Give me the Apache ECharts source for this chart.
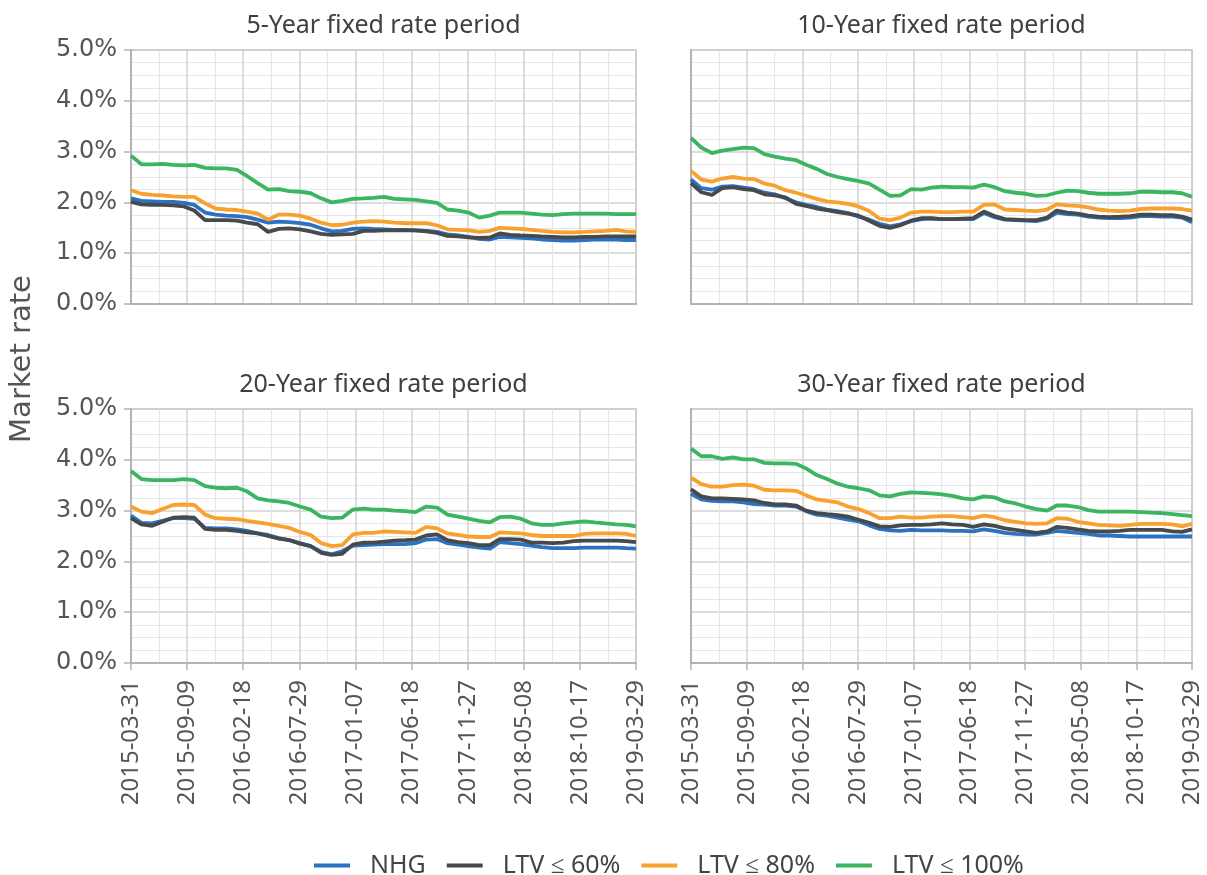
<!DOCTYPE html>
<html>
<head>
<meta charset="utf-8">
<script src="https://cdn.jsdelivr.net/npm/echarts@6/dist/echarts.min.js"></script>
<style>
html,body{margin:0;padding:0;background:#fff;}
#chart{width:1207px;height:875px;}
</style>
</head>
<body>
<div id="chart"></div>
<script>
// Month-end observation dates
const dates = ['2015-03-31','2015-04-30','2015-05-31','2015-06-30','2015-07-31','2015-08-31','2015-09-30','2015-10-31','2015-11-30','2015-12-31',
'2016-01-31','2016-02-29','2016-03-31','2016-04-30','2016-05-31','2016-06-30','2016-07-31','2016-08-31','2016-09-30','2016-10-31',
'2016-11-30','2016-12-31','2017-01-31','2017-02-28','2017-03-31','2017-04-30','2017-05-31','2017-06-30','2017-07-31','2017-08-31',
'2017-09-30','2017-10-31','2017-11-30','2017-12-31','2018-01-31','2018-02-28','2018-03-31','2018-04-30','2018-05-31','2018-06-30',
'2018-07-31','2018-08-31','2018-09-30','2018-10-31','2018-11-30','2018-12-31','2019-01-31','2019-02-28','2019-03-29'];

const seriesNames = ['NHG', 'LTV ≤ 60%', 'LTV ≤ 80%', 'LTV ≤ 100%'];
const panelTitles = ['5-Year fixed rate period', '10-Year fixed rate period', '20-Year fixed rate period', '30-Year fixed rate period'];
const yTicks = [0, 1, 2, 3, 4, 5];

// 5-year
const nhg5 = [2.08,2.03,2.02,2.01,2.01,1.99,1.95,1.80,1.76,1.74, 1.73,1.71,1.66,1.60,1.62,1.61,1.59,1.56,1.49,1.43, 1.44,1.48,1.49,1.48,1.47,1.46,1.46,1.45,1.44,1.42, 1.37,1.35,1.32,1.28,1.27,1.32,1.31,1.30,1.29,1.27, 1.26,1.25,1.25,1.26,1.27,1.27,1.27,1.26,1.26];
const ltv60_5 = [2.01,1.96,1.95,1.95,1.94,1.92,1.84,1.65,1.65,1.65, 1.64,1.60,1.57,1.42,1.48,1.49,1.47,1.43,1.38,1.36, 1.37,1.38,1.44,1.44,1.45,1.45,1.45,1.45,1.43,1.40, 1.34,1.33,1.31,1.30,1.31,1.39,1.36,1.35,1.34,1.33, 1.32,1.31,1.31,1.32,1.32,1.33,1.33,1.33,1.33];
const ltv80_5 = [2.24,2.17,2.15,2.14,2.12,2.11,2.11,1.98,1.88,1.86, 1.85,1.82,1.78,1.66,1.76,1.76,1.74,1.68,1.60,1.55, 1.56,1.60,1.62,1.63,1.62,1.60,1.59,1.59,1.59,1.55, 1.47,1.46,1.45,1.42,1.44,1.50,1.49,1.48,1.46,1.44, 1.42,1.41,1.41,1.42,1.43,1.44,1.46,1.43,1.42];
const ltv100_5 = [2.92,2.75,2.75,2.76,2.74,2.73,2.74,2.68,2.67,2.67, 2.64,2.52,2.38,2.25,2.26,2.22,2.21,2.18,2.08,2.00, 2.03,2.07,2.08,2.09,2.11,2.07,2.06,2.05,2.02,1.99, 1.86,1.84,1.80,1.70,1.74,1.80,1.80,1.80,1.78,1.76, 1.75,1.77,1.78,1.78,1.78,1.78,1.77,1.77,1.77];

// 10-year
const nhg10 = [2.45,2.28,2.25,2.31,2.32,2.29,2.26,2.19,2.16,2.08, 2.00,1.95,1.91,1.86,1.83,1.79,1.72,1.66,1.58,1.53, 1.57,1.63,1.67,1.68,1.67,1.67,1.67,1.67,1.79,1.71, 1.66,1.65,1.64,1.63,1.68,1.80,1.77,1.76,1.72,1.70, 1.69,1.69,1.70,1.73,1.73,1.72,1.72,1.70,1.61];
const ltv60_10 = [2.38,2.20,2.15,2.28,2.30,2.26,2.24,2.16,2.14,2.10, 1.97,1.93,1.88,1.85,1.81,1.78,1.74,1.64,1.54,1.50, 1.55,1.64,1.69,1.69,1.67,1.67,1.68,1.69,1.82,1.73, 1.67,1.66,1.65,1.65,1.70,1.84,1.80,1.78,1.74,1.72, 1.71,1.72,1.73,1.76,1.76,1.75,1.75,1.72,1.66];
const ltv80_10 = [2.62,2.45,2.41,2.47,2.50,2.47,2.46,2.37,2.33,2.24, 2.19,2.13,2.07,2.02,2.00,1.97,1.92,1.83,1.68,1.65, 1.70,1.80,1.82,1.82,1.81,1.81,1.82,1.82,1.95,1.96, 1.86,1.85,1.84,1.83,1.86,1.96,1.94,1.93,1.90,1.86, 1.84,1.83,1.84,1.87,1.88,1.88,1.88,1.87,1.84];
const ltv100_10 = [3.27,3.08,2.97,3.02,3.05,3.08,3.07,2.95,2.90,2.86, 2.83,2.74,2.66,2.56,2.50,2.46,2.42,2.37,2.25,2.13, 2.14,2.26,2.25,2.29,2.31,2.30,2.30,2.29,2.35,2.30, 2.22,2.19,2.17,2.13,2.14,2.19,2.23,2.22,2.19,2.17, 2.17,2.17,2.18,2.21,2.21,2.20,2.20,2.18,2.11];

// 20-year
const nhg20 = [2.90,2.76,2.75,2.80,2.85,2.85,2.84,2.66,2.65,2.65, 2.63,2.60,2.55,2.52,2.46,2.42,2.36,2.30,2.19,2.14, 2.20,2.31,2.32,2.33,2.34,2.34,2.34,2.36,2.43,2.44, 2.36,2.33,2.30,2.27,2.25,2.38,2.36,2.34,2.31,2.28, 2.26,2.26,2.26,2.27,2.27,2.27,2.27,2.26,2.25];
const ltv60_20 = [2.85,2.73,2.70,2.78,2.86,2.87,2.86,2.64,2.62,2.62, 2.60,2.57,2.55,2.50,2.45,2.42,2.35,2.30,2.17,2.13, 2.15,2.33,2.37,2.37,2.39,2.41,2.42,2.43,2.51,2.53, 2.42,2.38,2.36,2.32,2.32,2.44,2.44,2.43,2.37,2.37, 2.36,2.37,2.40,2.41,2.41,2.41,2.41,2.40,2.38];
const ltv80_20 = [3.08,2.98,2.95,3.03,3.11,3.12,3.11,2.92,2.85,2.84, 2.83,2.80,2.77,2.74,2.70,2.66,2.58,2.52,2.36,2.30, 2.32,2.53,2.56,2.56,2.59,2.58,2.57,2.56,2.68,2.65, 2.55,2.52,2.49,2.48,2.48,2.57,2.56,2.55,2.52,2.50, 2.50,2.50,2.50,2.54,2.55,2.55,2.55,2.54,2.50];
const ltv100_20 = [3.78,3.62,3.60,3.60,3.60,3.62,3.60,3.48,3.45,3.44, 3.45,3.38,3.24,3.20,3.18,3.15,3.08,3.02,2.88,2.85, 2.86,3.02,3.04,3.02,3.02,3.00,2.99,2.97,3.08,3.06, 2.92,2.88,2.84,2.80,2.77,2.87,2.88,2.84,2.75,2.72, 2.72,2.75,2.77,2.79,2.77,2.75,2.73,2.72,2.69];

// 30-year
const nhg30 = [3.33,3.22,3.19,3.18,3.18,3.16,3.13,3.12,3.10,3.10, 3.08,2.99,2.92,2.90,2.86,2.82,2.79,2.71,2.64,2.61, 2.60,2.62,2.61,2.61,2.61,2.60,2.60,2.59,2.63,2.60, 2.56,2.54,2.53,2.53,2.56,2.60,2.58,2.56,2.54,2.51, 2.51,2.50,2.49,2.49,2.49,2.49,2.49,2.49,2.49];
const ltv60_30 = [3.42,3.28,3.24,3.24,3.23,3.22,3.20,3.15,3.12,3.12, 3.10,3.00,2.95,2.93,2.91,2.88,2.82,2.76,2.69,2.68, 2.71,2.72,2.72,2.73,2.75,2.73,2.72,2.68,2.73,2.70, 2.65,2.62,2.59,2.56,2.59,2.68,2.66,2.63,2.60,2.59, 2.59,2.60,2.62,2.62,2.62,2.62,2.59,2.58,2.63];
const ltv80_30 = [3.65,3.52,3.47,3.47,3.50,3.51,3.49,3.41,3.40,3.40, 3.39,3.30,3.22,3.19,3.16,3.08,3.03,2.95,2.85,2.85, 2.88,2.86,2.86,2.88,2.89,2.89,2.87,2.85,2.90,2.87, 2.81,2.78,2.75,2.74,2.75,2.85,2.84,2.78,2.75,2.72, 2.71,2.70,2.72,2.74,2.74,2.74,2.73,2.69,2.74];
const ltv100_30 = [4.22,4.07,4.07,4.02,4.05,4.01,4.01,3.94,3.93,3.93, 3.92,3.83,3.70,3.62,3.53,3.47,3.44,3.40,3.30,3.28, 3.33,3.36,3.35,3.34,3.32,3.29,3.24,3.22,3.28,3.26, 3.18,3.14,3.08,3.03,3.00,3.10,3.10,3.07,3.01,2.98, 2.98,2.98,2.98,2.97,2.96,2.95,2.93,2.91,2.89];

const panels = [
  [nhg5, ltv60_5, ltv80_5, ltv100_5],
  [nhg10, ltv60_10, ltv80_10, ltv100_10],
  [nhg20, ltv60_20, ltv80_20, ltv100_20],
  [nhg30, ltv60_30, ltv80_30, ltv100_30]
];

const colors = ['#2b73c2', '#474a4d', '#f8a12f', '#3bb55f'];

const START = Date.UTC(2015, 2, 31);
const END = Date.UTC(2019, 2, 29);
const DAY = 86400000;
const totalDays = Math.round((END - START) / DAY); // 1459
const NSTEP = 9; // ten evenly spaced date ticks
function toX(d) { return (Date.parse(d) - START) / DAY * NSTEP / totalDays; }
function fmtX(v) {
  const days = Math.floor(v * totalDays / NSTEP + 1e-6);
  return new Date(START + days * DAY).toISOString().slice(0, 10);
}

const gridBoxes = [
  {left: 131, top: 50, width: 505, height: 254},
  {left: 691, top: 50, width: 501, height: 254},
  {left: 131, top: 409, width: 505, height: 254},
  {left: 691, top: 409, width: 501, height: 254}
];

const AXC = '#b3b3b3';
const grids = gridBoxes.map(b => Object.assign({show: true, borderColor: AXC, borderWidth: 1.5, backgroundColor: 'transparent'}, b));

const xAxes = gridBoxes.map((b, i) => ({
  type: 'value', gridIndex: i, min: 0, max: NSTEP, interval: 1,
  axisLine: {show: true, onZero: false, lineStyle: {color: AXC, width: 2}},
  axisTick: {show: i >= 2, length: 7, lineStyle: {color: AXC, width: 1.5}},
  axisLabel: {show: i >= 2, rotate: 90, margin: 17, formatter: fmtX,
    fontFamily: 'Noto Sans', fontSize: 24, color: '#555'},
  splitLine: {show: true, lineStyle: {color: '#d2d2d2', width: 1.5}},
  minorTick: {show: false, splitNumber: 2},
  minorSplitLine: {show: true, lineStyle: {color: '#e6e6e6', width: 1.2}}
}));

const yAxes = gridBoxes.map((b, i) => ({
  type: 'value', gridIndex: i, min: yTicks[0], max: yTicks[yTicks.length - 1], interval: 1,
  axisLine: {show: true, lineStyle: {color: AXC, width: 2}},
  axisTick: {show: i % 2 === 0, length: 7, lineStyle: {color: AXC, width: 1.5}},
  axisLabel: {show: i % 2 === 0, margin: 14, formatter: v => v.toFixed(1) + '%',
    fontFamily: 'DejaVu Sans', fontSize: 24, color: '#555'},
  splitLine: {show: true, lineStyle: {color: '#d2d2d2', width: 1.5}},
  minorTick: {show: false, splitNumber: 4},
  minorSplitLine: {show: true, lineStyle: {color: '#e6e6e6', width: 1.2}}
}));

const series = [];
panels.forEach((arrs, p) => {
  arrs.forEach((vals, s) => {
    series.push({
      name: seriesNames[s], type: 'line', xAxisIndex: p, yAxisIndex: p,
      data: vals.map((v, k) => [toX(dates[k]), v]),
      showSymbol: false, symbol: 'none',
      lineStyle: {color: colors[s], width: 3.8},
      itemStyle: {color: colors[s]},
      animation: false
    });
  });
});

const titleCenters = gridBoxes.map(b => [b.left + b.width / 2, b.top - 24]);
const graphics = panelTitles.map((t, i) => ({
  type: 'text', x: titleCenters[i][0], y: titleCenters[i][1],
  style: {text: t, font: '25px "Noto Sans"', fill: '#404040', align: 'center', verticalAlign: 'middle', textAlign: 'center', textVerticalAlign: 'middle'}
}));
graphics.push({
  type: 'text', x: 22, y: 359, rotation: Math.PI / 2,
  style: {text: 'Market rate', font: '29px "DejaVu Sans"', fill: '#555', align: 'center', verticalAlign: 'middle', textAlign: 'center', textVerticalAlign: 'middle'}
});

const chart = echarts.init(document.getElementById('chart'), null, {renderer: 'canvas'});
chart.setOption({
  animation: false,
  backgroundColor: '#fff',
  color: colors,
  grid: grids,
  xAxis: xAxes,
  yAxis: yAxes,
  series: series,
  graphic: graphics,
  legend: {
    data: seriesNames, left: 309, top: 848, icon: 'rect', itemWidth: 36, itemHeight: 4, itemGap: 21,
    textStyle: {fontFamily: 'Noto Sans', fontSize: 25, color: '#444', padding: [0, 0, 0, 15]}
  }
});
</script>
</body>
</html>
